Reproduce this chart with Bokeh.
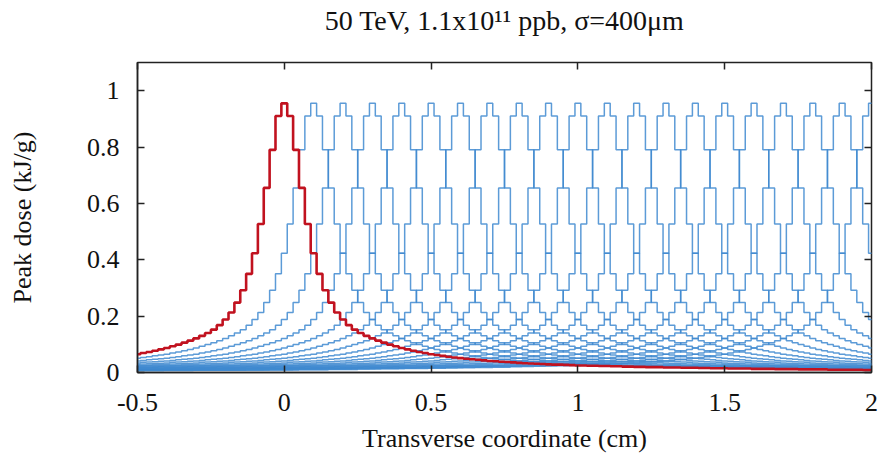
from bokeh.plotting import figure
from bokeh.models import LinearAxis, FixedTicker, Title
from bokeh.embed import file_html
from bokeh.resources import INLINE

# ---- data ----
bin_width = 0.02  # cm
# peak dose profile (kJ/g) by bin distance from the beam centre, k = 0..125 bins
profile_half = [
    0.955, 0.910, 0.790, 0.655, 0.527, 0.423, 0.350, 0.292, 0.248, 0.213,
    0.188, 0.168, 0.152, 0.140, 0.130, 0.121, 0.113, 0.106, 0.099, 0.093,
    0.087, 0.082, 0.077, 0.073, 0.069, 0.065, 0.062, 0.059, 0.056, 0.053,
    0.051, 0.049, 0.047, 0.045, 0.043, 0.041, 0.040, 0.038, 0.037, 0.036,
    0.034, 0.033, 0.032, 0.031, 0.030, 0.029, 0.028, 0.028, 0.027, 0.026,
    0.025, 0.025, 0.024, 0.024, 0.023, 0.023, 0.022, 0.022, 0.021, 0.021,
    0.020, 0.020, 0.019, 0.019, 0.019, 0.018, 0.018, 0.018, 0.017, 0.017,
    0.017, 0.016, 0.016, 0.015, 0.015, 0.015, 0.014, 0.014, 0.014, 0.014,
    0.013, 0.013, 0.013, 0.013, 0.012, 0.012, 0.012, 0.012, 0.011, 0.011,
    0.011, 0.011, 0.011, 0.010, 0.010, 0.010, 0.010, 0.010, 0.010, 0.009,
    0.009, 0.009, 0.009, 0.009, 0.009, 0.009, 0.009, 0.008, 0.008, 0.008,
    0.008, 0.008, 0.008, 0.008, 0.008, 0.008, 0.007, 0.007, 0.007, 0.007,
    0.007, 0.007, 0.007, 0.007, 0.007, 0.007,
]
red_peak = 0.0
blue_peaks = [0.1, 0.2, 0.3, 0.4, 0.5, 0.6, 0.7, 0.8, 0.9, 1.0,
              1.1, 1.2, 1.3, 1.4, 1.5, 1.6, 1.7, 1.8, 1.9, 2.0]

x_ticks = [-0.5, 0, 0.5, 1, 1.5, 2]
x_tick_labels = ["-0.5", "0", "0.5", "1", "1.5", "2"]
y_ticks = [0, 0.2, 0.4, 0.6, 0.8, 1.0]
y_tick_labels = ["0", "0.2", "0.4", "0.6", "0.8", "1"]

title_text = "50 TeV, 1.1x10\u00b9\u00b9 ppb, \u03c3=400\u03bcm"
x_label = "Transverse coordinate (cm)"
y_label = "Peak dose (kJ/g)"

FONT = "Liberation Serif"


def curve(center):
    n = len(profile_half) - 1
    ks = list(range(-n, n + 1))
    xs = [center + k * bin_width for k in ks]
    ys = [profile_half[abs(k)] for k in ks]
    return xs, ys


p = figure(width=878, height=455, x_range=(-0.5, 2.0), y_range=(0, 1.1),
           output_backend="svg", toolbar_location=None,
           min_border_left=137, min_border_right=7,
           min_border_top=61, min_border_bottom=83,
           x_axis_label=x_label, y_axis_label=y_label)

for c in blue_peaks:
    xs, ys = curve(c)
    p.step(xs, ys, mode="center", line_color="#3f8ad0", line_width=1.5,
           line_alpha=0.85)

xs, ys = curve(red_peak)
p.step(xs, ys, mode="center", line_color="#c1121f", line_width=2.6)

p.grid.visible = False
p.background_fill_color = "white"
p.border_fill_color = "white"
p.outline_line_color = "#222222"
p.outline_line_width = 1.5

# title
p.title.text = title_text
p.title.align = "center"
p.title.vertical_align = "top"
p.title.text_font = FONT
p.title.text_font_size = "28px"
p.title.text_font_style = "normal"
p.title.text_color = "#111111"
p.title.standoff = 8

for ax, ticks, labels in ((p.xaxis[0], x_ticks, x_tick_labels),
                          (p.yaxis[0], y_ticks, y_tick_labels)):
    ax.ticker = FixedTicker(ticks=ticks)
    ax.major_label_overrides = {float(t): l for t, l in zip(ticks, labels)}
    ax.major_label_text_font = FONT
    ax.major_label_text_font_size = "26px"
    ax.major_label_text_color = "#111111"
    ax.axis_label_text_font = FONT
    ax.axis_label_text_font_size = "26px"
    ax.axis_label_text_font_style = "normal"
    ax.axis_label_text_color = "#111111"
    ax.major_tick_in = 7
    ax.major_tick_out = 0
    ax.minor_tick_in = 0
    ax.minor_tick_out = 0
    ax.major_tick_line_color = "#222222"
    ax.major_tick_line_width = 1.5
    ax.axis_line_color = "#222222"
    ax.axis_line_width = 1.5

p.xaxis[0].major_label_standoff = 21
p.xaxis[0].axis_label_standoff = 10
p.yaxis[0].major_label_standoff = 18
p.yaxis[0].axis_label_standoff = 47

# mirror ticks on the right and top (no labels)
for side, ticks in (("right", y_ticks), ("above", x_ticks)):
    ax = LinearAxis(ticker=FixedTicker(ticks=ticks))
    ax.major_label_text_font_size = "0px"
    ax.major_label_text_color = None
    ax.major_label_standoff = 0
    ax.major_tick_in = 7
    ax.major_tick_out = 0
    ax.minor_tick_in = 0
    ax.minor_tick_out = 0
    ax.major_tick_line_color = "#222222"
    ax.major_tick_line_width = 1.5
    ax.axis_line_color = None
    p.add_layout(ax, side)

# blank spacer between the frame and the title
p.add_layout(Title(text=" ", text_font_size="10px", standoff=8), "above")

open("out.html", "w").write(file_html(p, INLINE))
